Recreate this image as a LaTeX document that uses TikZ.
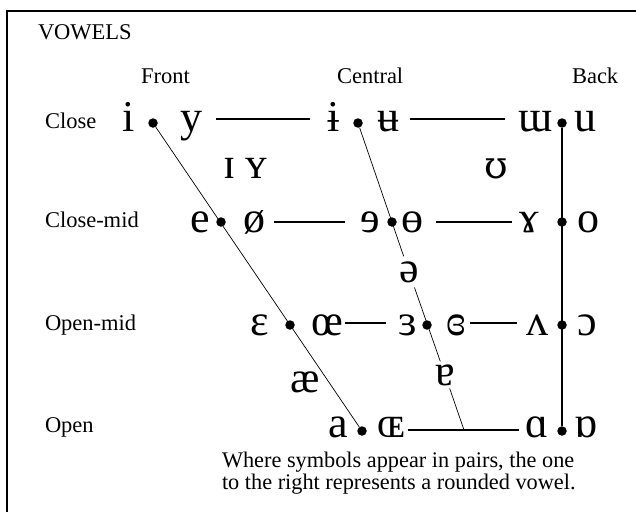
\documentclass[tikz,border=0pt]{standalone}
\usepackage{fontspec}
\setmainfont{Liberation Serif}
\newfontfamily\dvserif{DejaVu Serif}
\newcommand{\lblfont}{\fontsize{22.5}{26}\selectfont}
\newcommand{\footfont}{\fontsize{22.3}{20}\selectfont}
\newcommand{\ipafont}{\fontsize{44}{50}\selectfont}
\begin{document}
\begin{tikzpicture}[x=1pt,y=-1pt,
  lbl/.style={font=\lblfont, inner sep=0pt, outer sep=0pt, anchor=base west},
  ipa/.style={font=\ipafont, inner sep=0pt, outer sep=0pt, anchor=base},
  vdot/.style={circle, fill=black, inner sep=0pt, minimum size=9.5pt},
  hline/.style={line width=1.2pt},
  dline/.style={line width=0.7pt},
  bline/.style={line width=1.6pt},
  framel/.style={line width=2.4pt}]
\useasboundingbox (0,0) rectangle (636,511);
% frame
\coordinate (f1) at (7,512);
\coordinate (f2) at (7,11);
\coordinate (f3) at (637,11);
\draw[framel] (f1) -- (f2) -- (f3);
% labels
\node[lbl] (vowels) at (38,40) {VOWELS};
\node[lbl] (front) at (141,83) {Front};
\node[lbl] (central) at (337,83) {Central};
\node[lbl] (back) at (572,83) {Back};
\node[lbl] (close) at (45,128) {Close};
\node[lbl] (closemid) at (45,227) {Close-mid};
\node[lbl] (openmid) at (45,330) {Open-mid};
\node[lbl] (open) at (45,432) {Open};
\node[font=\footfont, inner sep=0pt, outer sep=0pt, anchor=north west, align=left] (foot) at (222,452.5)
  {Where symbols appear in pairs, the one\\to the right represents a rounded vowel.};
% row heights of the horizontal lines
\coordinate (r1) at (0,119);
\coordinate (r2) at (0,222);
\coordinate (r3) at (0,323);
\coordinate (r4) at (0,430);
% dots
\node[vdot] (d11) at (153,123) {};
\node[vdot] (d12) at (358,123) {};
\node[vdot] (d13) at (562,123) {};
\node[vdot] (d21) at (221,222) {};
\node[vdot] (d22) at (392,222) {};
\node[vdot] (d23) at (562,222) {};
\node[vdot] (d31) at (290,325) {};
\node[vdot] (d32) at (427,325) {};
\node[vdot] (d33) at (562,325) {};
\node[vdot] (d41) at (362,431) {};
\node[vdot] (d44) at (562,431) {};
\coordinate (cend) at (464,430);
% close
\node[ipa] (si) at (129,131) {i};
\node[ipa] (sy) at (191.5,131) {y};
\node[ipa] (sib) at (334,131) {ɨ};
\node[ipa] (sub) at (388.5,131) {ʉ};
\node[ipa] (sm) at (535.5,131) {ɯ};
\node[ipa] (su) at (585,131) {u};
% near-close
\node[ipa] (sI) at (230,178) {ɪ};
\node[ipa] (sY) at (256.5,178) {ʏ};
\node[ipa, font=\ipafont\dvserif\fontsize{38}{44}\selectfont] (sU) at (496,178) {ʊ};
% close-mid
\node[ipa] (se) at (200,232) {e};
\node[ipa] (so2) at (254.5,232) {ø};
\node[ipa] (sre) at (370,232) {ɘ};
\node[ipa] (sbo) at (412,232) {ɵ};
\node[ipa] (sga) at (529.5,232) {ɤ};
\node[ipa] (so) at (588,232) {o};
% mid
\node[ipa, inner ysep=5pt] (sschwa) at (409,282) {ə};
% open-mid
\node[ipa] (seps) at (259.5,335) {ɛ};
\node[ipa] (soe) at (327.5,335) {œ};
\node[ipa] (srev) at (408,335) {ɜ};
\node[ipa] (screv) at (456.5,335) {ɞ};
\node[ipa] (sv) at (537.5,335) {ʌ};
\node[ipa] (sc) at (587,335) {ɔ};
% near-open
\node[ipa] (sae) at (305,392) {æ};
\node[ipa, inner ysep=3pt] (sta) at (445,385) {ɐ};
% open
\node[ipa] (sa) at (338,437) {a};
\node[ipa] (sOE) at (391.5,437) {ɶ};
\node[ipa] (sal) at (536.5,437) {ɑ};
\node[ipa] (sro) at (586,437) {ɒ};
% diagonal and back lines
\draw[dline] (d11) -- (d41);
\draw[dline] (d12) -- (sschwa);
\draw[dline] (sschwa) -- (sta);
\draw[dline] (sta) -- (cend);
\draw[bline] (d13) -- (d44);
% horizontal lines
\draw[hline, shorten <=13.5pt, shorten >=18pt] (sy.east |- r1) -- (sib.west |- r1);
\draw[hline, shorten <=10.5pt, shorten >=13.5pt] (sub.east |- r1) -- (sm.west |- r1);
\draw[hline, shorten <=8.5pt, shorten >=15pt] (so2.east |- r2) -- (sre.west |- r2);
\draw[hline, shorten <=13pt, shorten >=7.5pt] (sbo.east |- r2) -- (sga.west |- r2);
\draw[hline, shorten <=1.5pt, shorten >=13pt] (soe.east |- r3) -- (srev.west |- r3);
\draw[hline, shorten <=3.5pt, shorten >=9.5pt] (screv.east |- r3) -- (sv.west |- r3);
\draw[hline, shorten <=3pt, shorten >=6.5pt] (sOE.east |- r4) -- (sal.west |- r4);
\end{tikzpicture}
\end{document}
